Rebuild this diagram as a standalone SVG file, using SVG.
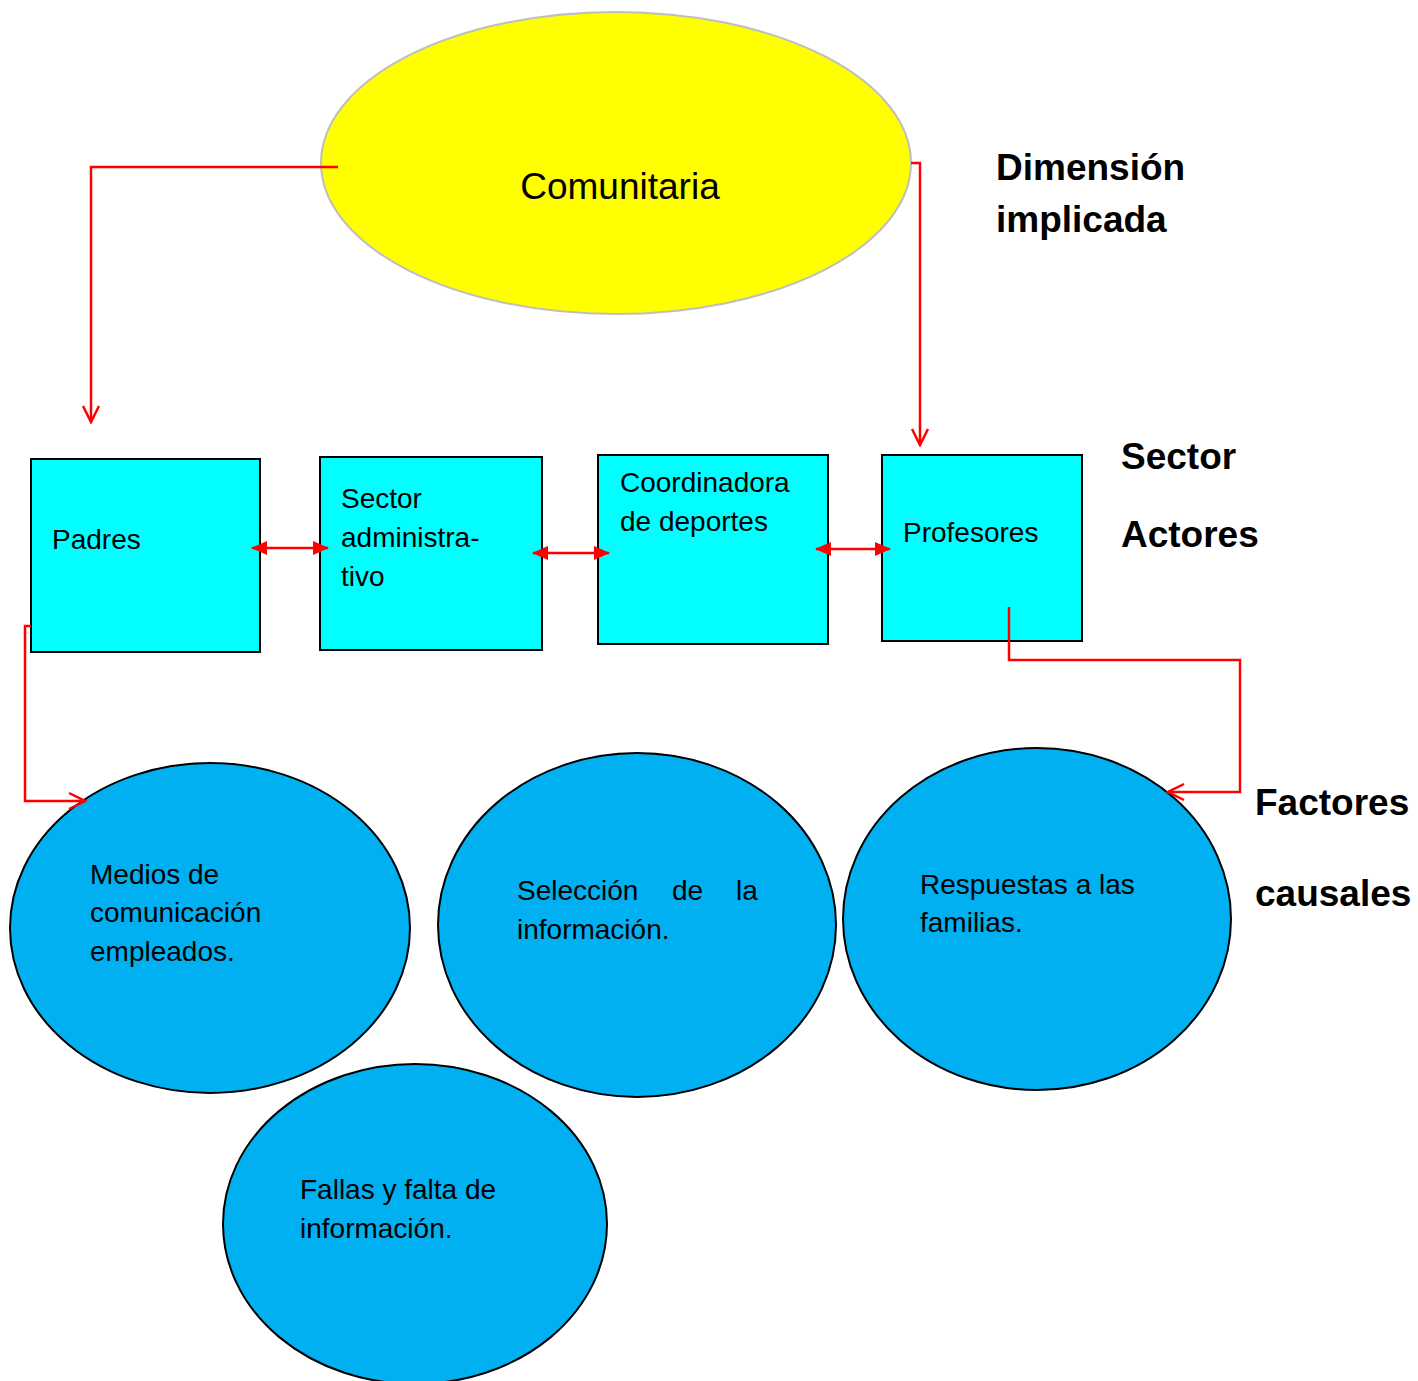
<svg xmlns="http://www.w3.org/2000/svg" width="1418" height="1381" viewBox="0 0 1418 1381">
<defs>
<style>
.t{font-family:"Liberation Sans",Arial,sans-serif;font-size:28px;fill:#000}
.b{font-family:"Liberation Sans",Arial,sans-serif;font-size:37px;font-weight:bold;fill:#000}
.box{fill:#00FFFF;stroke:#000;stroke-width:2}
.circ{fill:#00B0F0;stroke:#000;stroke-width:2}
.c{fill:none;stroke:#FF0000;stroke-width:2.5}
</style>
<marker id="open" viewBox="0 0 20 20" refX="18" refY="10" markerWidth="20" markerHeight="20" markerUnits="userSpaceOnUse" orient="auto">
<path d="M2,2 L18,10 L2,18" fill="none" stroke="#FF0000" stroke-width="2.5"/>
</marker>
<marker id="fill" viewBox="0 0 16 14" refX="15" refY="7" markerWidth="16" markerHeight="14" markerUnits="userSpaceOnUse" orient="auto-start-reverse">
<path d="M0,0 L16,7 L0,14 Z" fill="#FF0000"/>
</marker>
</defs>
<rect width="1418" height="1381" fill="#fff"/>
<g id="comunitaria">
<ellipse cx="616" cy="163" rx="295" ry="151" fill="#FFFF00" stroke="#BFBFBF" stroke-width="2"/>
<text x="620" y="199" text-anchor="middle" font-family="Liberation Sans,Arial,sans-serif" font-size="37">Comunitaria</text>
</g>
<g id="padres">
<rect class="box" x="31" y="459" width="229" height="193"/>
<text class="t" x="52" y="549">Padres</text>
</g>
<g id="sector-admin">
<rect class="box" x="320" y="457" width="222" height="193"/>
<text class="t" x="341" y="508">Sector</text>
<text class="t" x="341" y="547">administra-</text>
<text class="t" x="341" y="586">tivo</text>
</g>
<g id="coordinadora">
<rect class="box" x="598" y="455" width="230" height="189"/>
<text class="t" x="620" y="492">Coordinadora</text>
<text class="t" x="620" y="531">de deportes</text>
</g>
<g id="profesores">
<rect class="box" x="882" y="455" width="200" height="186"/>
<text class="t" x="903" y="542">Profesores</text>
</g>
<g id="medios">
<ellipse class="circ" cx="210" cy="928" rx="200" ry="165"/>
<text class="t" x="90" y="884">Medios de</text>
<text class="t" x="90" y="922">comunicación</text>
<text class="t" x="90" y="961">empleados.</text>
</g>
<g id="seleccion">
<ellipse class="circ" cx="637" cy="925" rx="199" ry="172"/>
<text class="t" x="517" y="900">Selección</text>
<text class="t" x="672" y="900">de</text>
<text class="t" x="736" y="900">la</text>
<text class="t" x="517" y="939">información.</text>
</g>
<g id="respuestas">
<ellipse class="circ" cx="1037" cy="919" rx="194" ry="171"/>
<text class="t" x="920" y="894">Respuestas a las</text>
<text class="t" x="920" y="932">familias.</text>
</g>
<g id="fallas">
<ellipse class="circ" cx="415" cy="1224" rx="192" ry="160"/>
<text class="t" x="300" y="1199">Fallas y falta de</text>
<text class="t" x="300" y="1238">información.</text>
</g>
<g id="labels">
<text class="b" x="996" y="180">Dimensión</text>
<text class="b" x="996" y="232">implicada</text>
<text class="b" x="1121" y="469">Sector</text>
<text class="b" x="1121" y="547">Actores</text>
<text class="b" x="1255" y="815">Factores</text>
<text class="b" x="1255" y="906">causales</text>
</g>
<g id="connectors">
<path class="c" d="M338,167 H91 V422" marker-end="url(#open)"/>
<path class="c" d="M911,163 H920 V445" marker-end="url(#open)"/>
<path class="c" d="M31,626 H25 V801 H85" marker-end="url(#open)"/>
<path class="c" d="M1009,607 V660 H1240 V792 H1168" marker-end="url(#open)"/>
<path class="c" d="M252,548 H328" marker-start="url(#fill)" marker-end="url(#fill)"/>
<path class="c" d="M533,553 H609" marker-start="url(#fill)" marker-end="url(#fill)"/>
<path class="c" d="M816,549 H890" marker-start="url(#fill)" marker-end="url(#fill)"/>
</g>
</svg>
